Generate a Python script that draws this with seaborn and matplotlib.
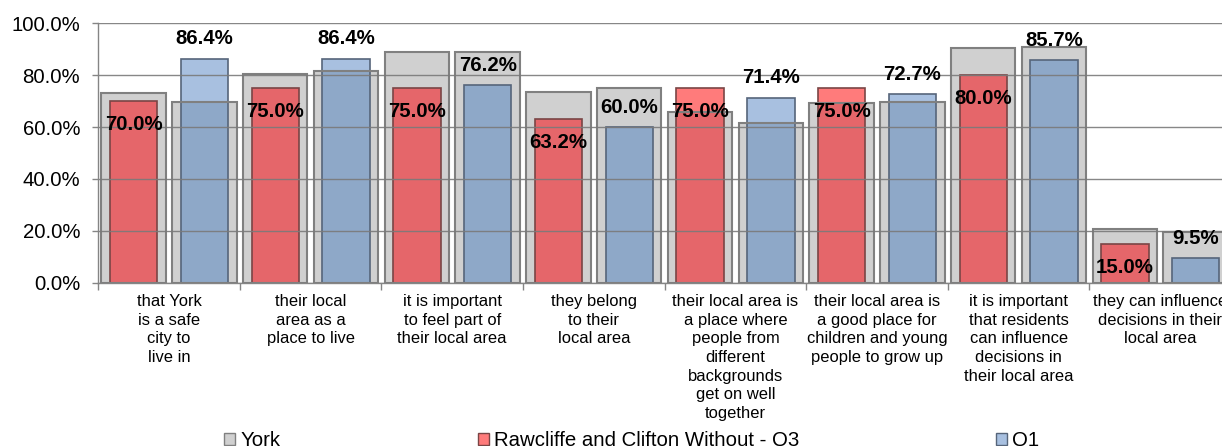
import matplotlib
matplotlib.use("Agg")
import matplotlib.pyplot as plt
import seaborn as sns
import pandas as pd
from matplotlib.patches import Patch
from matplotlib.ticker import FuncFormatter, FixedLocator

categories = [
    "that York\nis a safe\ncity to\nlive in",
    "their local\narea as a\nplace to live",
    "it is important\nto feel part of\ntheir local area",
    "they belong\nto their\nlocal area",
    "their local area is\na place where\npeople from\ndifferent\nbackgrounds\nget on well\ntogether",
    "their local area is\na good place for\nchildren and young\npeople to grow up",
    "it is important\nthat residents\ncan influence\ndecisions in\ntheir local area",
    "they can influence\ndecisions in their\nlocal area",
]
york_left = [73.1, 80.3, 89.0, 73.5, 66.0, 69.2, 90.6, 20.9]
york_right = [69.7, 81.7, 89.0, 74.9, 61.7, 69.7, 90.8, 19.5]
q3_values = [70.0, 75.0, 75.0, 63.2, 75.0, 75.0, 80.0, 15.0]
q1_values = [86.4, 86.4, 76.2, 60.0, 71.4, 72.7, 85.7, 9.5]
yticks = [0, 20, 40, 60, 80, 100]
legend_labels = ["York", "Rawcliffe and Clifton Without - Q3", "Q1"]

FONT = "Liberation Sans"
plt.rcParams["font.family"] = [FONT, "DejaVu Sans"]

n = len(categories)
slots_left = [f"L{i}" for i in range(n)]
slots_right = [f"R{i}" for i in range(n)]
slot_order = [s for i in range(n) for s in (slots_left[i], slots_right[i])]

df_york = pd.DataFrame({"slot": slots_left + slots_right, "value": york_left + york_right})
df_q3 = pd.DataFrame({"slot": slots_left, "value": q3_values})
df_q1 = pd.DataFrame({"slot": slots_right, "value": q1_values})

GREY = "#d0d0d0"
GREY_EDGE = "#808080"
RED_LIGHT = "#ff7b7b"
RED_DARK = "#e5666a"
RED_EDGE = "#7a4545"
BLUE_LIGHT = "#a8c0e0"
BLUE_DARK = "#8ea8c8"
BLUE_EDGE = "#56657a"

fig = plt.figure(figsize=(12.22, 4.46), dpi=100)
ax = fig.add_axes([0.0804, 0.3661, 0.9270, 0.5816])


def draw(df, color, edge, width, z, ls_width=1.2):
    before = len(ax.patches)
    sns.barplot(data=df, x="slot", y="value", order=slot_order, width=width,
                color=color, saturation=1, edgecolor=edge, linewidth=ls_width,
                errorbar=None, zorder=z, ax=ax)
    return ax.patches[before:]


# light coloured bars (visible where they rise above the York bars)
q3_light = draw(df_q3, RED_LIGHT, RED_EDGE, 0.67, 0.8)
q1_light = draw(df_q1, BLUE_LIGHT, BLUE_EDGE, 0.67, 0.8)
# York bars
york = draw(df_york, GREY, "none", 0.91, 1.0)
# darker coloured bars, shown only inside York bars
q3_dark = draw(df_q3, RED_DARK, RED_EDGE, 0.67, 1.5)
q1_dark = draw(df_q1, BLUE_DARK, BLUE_EDGE, 0.67, 1.5)
# York outlines on top
york_edges = draw(df_york, "none", GREY_EDGE, 0.91, 2.0, 1.5)
for p in york_edges:
    p.set_facecolor("none")


def center(p):
    return p.get_x() + p.get_width() / 2


for p in q3_dark + q1_dark:
    c = center(p)
    match = min(york, key=lambda yp: abs(center(yp) - c))
    p.set_clip_path(match)

ax.set_xlim(-0.5, 2 * n - 0.5)
ax.set_ylim(0, 100)
ax.set_xlabel("")
ax.set_ylabel("")

# gridlines drawn over the bars
ax.set_axisbelow(False)
ax.yaxis.grid(True, color="#7a7a7a", linewidth=1.0, alpha=0.9)
ax.set_yticks(yticks)
ax.yaxis.set_major_formatter(FuncFormatter(lambda v, _: f"{v:.1f}%"))
ax.tick_params(axis="y", labelsize=14.7, length=4, width=1, color="#858585", pad=9,
               labelcolor="black")

# x ticks: boundaries (major, no label) and category labels (minor)
ax.xaxis.set_major_locator(FixedLocator([2 * i - 0.5 for i in range(n + 1)]))
ax.xaxis.set_major_formatter(FuncFormatter(lambda v, _: ""))
ax.xaxis.set_minor_locator(FixedLocator([2 * i + 0.5 for i in range(n)]))
ax.set_xticklabels(categories, minor=True, fontsize=11.9, linespacing=1.31)
ax.tick_params(axis="x", which="major", length=5, width=1, color="#858585")
ax.tick_params(axis="x", which="minor", length=0, pad=8)

for side in ["top", "right"]:
    ax.spines[side].set_visible(False)
for side in ["left", "bottom"]:
    ax.spines[side].set_color("#858585")
    ax.spines[side].set_linewidth(1.0)
    ax.spines[side].set_zorder(2.6)

# value labels
for p, v in zip(q3_dark, q3_values):
    ax.text(center(p), v - 9.0, f"{v:.1f}%", ha="center", va="center",
            fontsize=14.7, fontweight="bold", zorder=5)
for p, v in zip(q1_dark, q1_values):
    ax.text(center(p), v + 7.7, f"{v:.1f}%", ha="center", va="center",
            fontsize=14.7, fontweight="bold", zorder=5)

handles = [
    Patch(facecolor=GREY, edgecolor=GREY_EDGE, linewidth=1.0),
    Patch(facecolor=RED_LIGHT, edgecolor=RED_EDGE, linewidth=1.0),
    Patch(facecolor=BLUE_LIGHT, edgecolor=BLUE_EDGE, linewidth=1.0),
]
fig.legend(handles, legend_labels, ncol=3, loc="center", bbox_to_anchor=(0.517, 0.012),
           frameon=False, fontsize=14.7, handlelength=0.54, handleheight=0.54,
           handletextpad=0.25, columnspacing=9.65, borderpad=0, borderaxespad=0)

fig.savefig("out.png", dpi=100)
